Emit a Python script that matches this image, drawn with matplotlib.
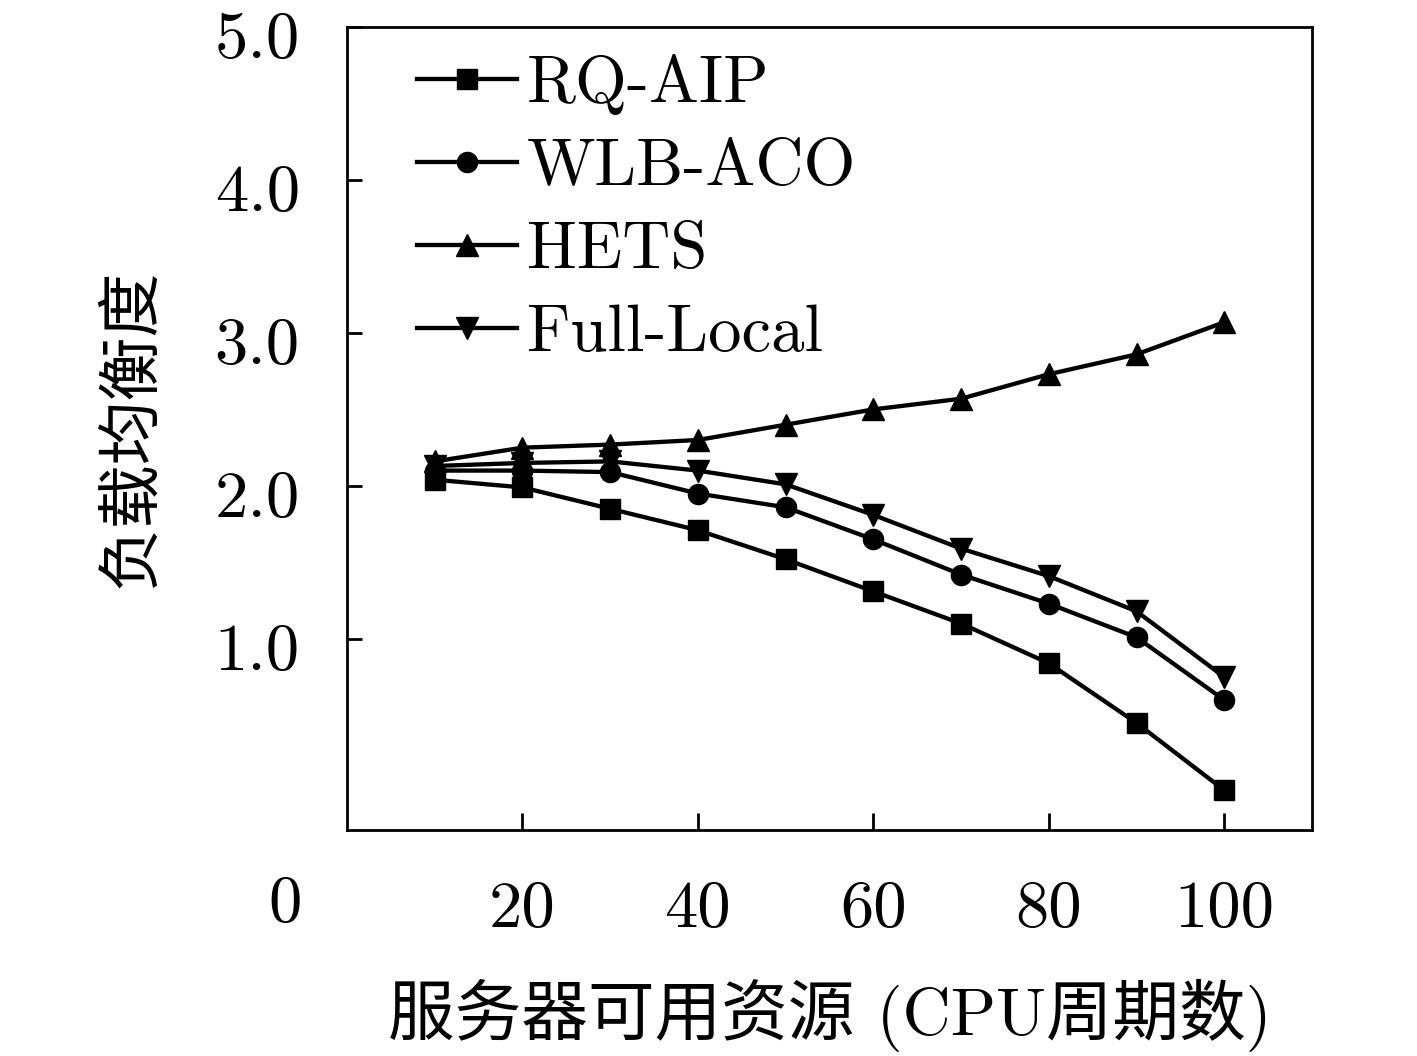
import matplotlib
matplotlib.use("Agg")
import matplotlib.pyplot as plt
from matplotlib.transforms import ScaledTranslation

plt.rcParams['font.family'] = ['cmr10', 'Noto Sans CJK SC', 'DejaVu Sans']
plt.rcParams['axes.formatter.use_mathtext'] = True

x = [10, 20, 30, 40, 50, 60, 70, 80, 90, 100]
rq_aip = [2.04, 1.99, 1.85, 1.71, 1.52, 1.31, 1.10, 0.84, 0.45, 0.01]
wlb_aco = [2.10, 2.10, 2.09, 1.95, 1.86, 1.65, 1.42, 1.23, 1.01, 0.60]
hets = [2.16, 2.25, 2.27, 2.30, 2.40, 2.50, 2.57, 2.73, 2.86, 3.07]
full_local = [2.13, 2.15, 2.16, 2.10, 2.01, 1.81, 1.59, 1.41, 1.18, 0.75]

xticks = [20, 40, 60, 80, 100]
yticks = [1.0, 2.0, 3.0, 4.0, 5.0]
ytick_labels = ['1.0', '2.0', '3.0', '4.0', '5.0']

fig = plt.figure(figsize=(14.17, 10.56), dpi=100)
ax = fig.add_axes([0.2449, 0.2140, 0.681, 0.7604])

lw = 3.1
ax.plot(x, rq_aip, 'k-', marker='s', markersize=14, linewidth=lw, label='RQ-AIP')
ax.plot(x, wlb_aco, 'k-', marker='o', markersize=14.5, linewidth=lw, label='WLB-ACO')
ax.plot(x, hets, 'k-', marker='^', markersize=16, linewidth=lw, label='HETS')
ax.plot(x, full_local, 'k-', marker='v', markersize=16, linewidth=lw, label='Full-Local')

ax.set_xlim(0, 110)
ax.set_ylim(-0.25, 5.0)
ax.set_xticks(xticks)
ax.set_xticklabels([str(t) for t in xticks])
ax.set_yticks(yticks)
ax.set_yticklabels(ytick_labels)

for s in ax.spines.values():
    s.set_linewidth(2.0)
ax.tick_params(axis='x', direction='in', length=12, width=2, pad=36, labelsize=48)
ax.tick_params(axis='y', direction='in', length=11, width=2, pad=34, labelsize=48)
# labels sit a little below their ticks in the original
shift = ScaledTranslation(0, -8 / 100, fig.dpi_scale_trans)
for lab in ax.get_yticklabels():
    lab.set_transform(lab.get_transform() + shift)

ax.set_xlabel('服务器可用资源 (CPU周期数)', fontsize=48, labelpad=28)
ax.set_ylabel('负载均衡度', fontsize=46, labelpad=36,
              family=['Noto Sans CJK SC', 'DejaVu Sans'])

fig.text(285 / 1417, 1 - 905 / 1056, '0', fontsize=48, ha='center', va='center')

leg = ax.legend(loc='upper left', bbox_to_anchor=(0.072, 0.966), frameon=False,
                fontsize=48, handlelength=1.5, handletextpad=0.15,
                labelspacing=0.35, borderpad=0, borderaxespad=0)

fig.savefig('out.png', dpi=100)
